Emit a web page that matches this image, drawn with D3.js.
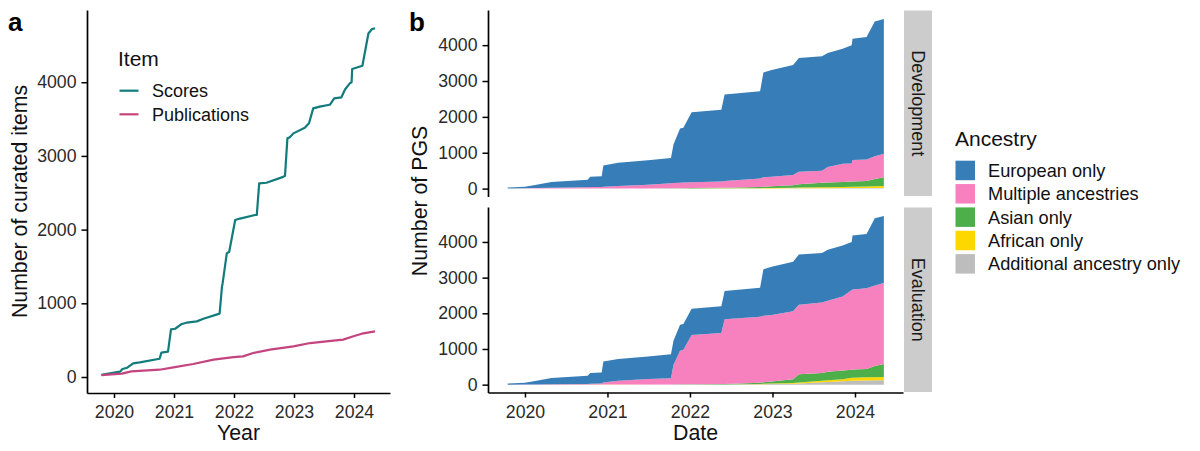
<!DOCTYPE html>
<html>
<head>
<meta charset="utf-8">
<script src="https://cdn.jsdelivr.net/npm/d3@7"></script>
<style>
  body { margin: 0; background: #fff; }
  text { font-family: "Liberation Sans", Arial, Helvetica, sans-serif; }
</style>
</head>
<body>
<svg id="chart" width="1200" height="451"></svg>
<script>
/* panel a: cumulative curated items, x in decimal years */
var scoreYears = [2019.79, 2020.1, 2020.14, 2020.22, 2020.32, 2020.43, 2020.76, 2020.79, 2020.9, 2020.95,
  2021.02, 2021.13, 2021.21, 2021.38, 2021.49, 2021.76, 2021.8, 2021.81, 2021.88, 2021.92,
  2022.02, 2022.1, 2022.35, 2022.38, 2022.42, 2022.54, 2022.82, 2022.85, 2022.89, 2022.93,
  2022.99, 2023.18, 2023.25, 2023.32, 2023.43, 2023.57, 2023.6, 2023.67, 2023.79, 2023.85,
  2023.93, 2023.96, 2023.97, 2024.05, 2024.14, 2024.24, 2024.3, 2024.35];
var scores = [31, 72, 108, 126, 185, 199, 248, 330, 344, 647,
  655, 720, 737, 755, 791, 860, 1230, 1270, 1678, 1700,
  2130, 2150, 2198, 2200, 2627, 2636, 2716, 2730, 3238, 3252,
  3306, 3383, 3444, 3645, 3668, 3691, 3695, 3780, 3795, 3902,
  3984, 4000, 4179, 4200, 4224, 4662, 4722, 4730];

var pubYears = [2019.79, 2020.13, 2020.29, 2020.76, 2020.99, 2021.32, 2021.66, 2021.99, 2022.15,
  2022.32, 2022.6, 2022.99, 2023.27, 2023.54, 2023.82, 2023.99, 2024.13, 2024.35];
var publications = [25, 45, 76, 99, 130, 176, 235, 271, 280,
  326, 371, 416, 461, 484, 507, 552, 588, 619];

/* panel b: PGS by ancestry, shared dates */
var pgsYears = [2019.79, 2020.0, 2020.14, 2020.32, 2020.76, 2020.79, 2020.93, 2020.95, 2021.13, 2021.49,
  2021.77, 2021.8, 2021.88, 2021.92, 2022.02, 2022.38, 2022.42, 2022.85, 2022.89, 2022.99,
  2023.25, 2023.32, 2023.6, 2023.67, 2023.85, 2023.96, 2023.97, 2024.14, 2024.24, 2024.35];

var devEuropean = [26, 40, 93, 160, 208, 288, 296, 592, 650, 681,
  705, 1075, 1513, 1530, 1950, 2000, 2412, 2436, 2918, 2976,
  3064, 3175, 3191, 3180, 3212, 3300, 3379, 3414, 3762, 3755];
var devMultiple = [5, 10, 15, 24, 38, 40, 46, 52, 66, 104,
  142, 146, 155, 158, 165, 178, 190, 235, 265, 265,
  285, 350, 340, 430, 505, 505, 600, 595, 630, 655];
var devAsian = [0, 0, 0, 1, 2, 2, 1, 2, 3, 4,
  5, 6, 6, 8, 10, 15, 17, 33, 40, 47,
  70, 90, 122, 130, 140, 145, 148, 157, 205, 250];
var devAfrican = [0, 0, 0, 0, 0, 0, 1, 1, 1, 1,
  2, 2, 2, 2, 3, 4, 5, 8, 10, 12,
  17, 20, 26, 28, 31, 35, 37, 42, 47, 50];
var devAdditional = [0, 0, 0, 0, 0, 0, 0, 0, 0, 1,
  1, 1, 2, 2, 2, 3, 3, 4, 5, 6,
  8, 10, 12, 12, 14, 15, 15, 16, 18, 20];

var evalEuropean = [31, 48, 103, 175, 228, 308, 314, 587, 610, 631,
  675, 680, 728, 720, 740, 750, 797, 816, 1308, 1356,
  1384, 1405, 1391, 1430, 1432, 1350, 1509, 1524, 1882, 1880];
var evalMultiple = [0, 2, 5, 10, 19, 21, 28, 58, 107, 156,
  175, 544, 942, 970, 1378, 1435, 1812, 1850, 1865, 1860,
  1910, 1950, 1970, 1990, 2070, 2230, 2245, 2260, 2260, 2270];
var evalAsian = [0, 0, 0, 0, 1, 1, 1, 1, 2, 2,
  3, 3, 5, 6, 7, 9, 11, 30, 40, 60,
  105, 230, 220, 240, 250, 230, 230, 235, 310, 365];
var evalAfrican = [0, 0, 0, 0, 0, 0, 1, 1, 1, 1,
  1, 2, 2, 2, 3, 3, 4, 10, 13, 15,
  20, 25, 40, 45, 57, 80, 83, 87, 90, 93];
var evalAdditional = [0, 0, 0, 0, 0, 0, 0, 0, 0, 1,
  1, 1, 1, 2, 2, 3, 3, 10, 12, 15,
  25, 35, 70, 75, 93, 110, 112, 118, 120, 122];

var ancestries = ["European only", "Multiple ancestries", "Asian only", "African only", "Additional ancestry only"];
var ancestryColors = ["#377eb8", "#f781bf", "#4daf4a", "#ffd700", "#bdbdbd"];
var facets = ["Development", "Evaluation"];
var items = ["Scores", "Publications"];
var itemColors = ["#137b7b", "#c4447f"];
var yearTicks = [2020, 2021, 2022, 2023, 2024];
var countTicks = [0, 1000, 2000, 3000, 4000];

var svg = d3.select("#chart");
var FONT = '"Liberation Sans", Arial, Helvetica, sans-serif';

function styleAxis(g) {
  g.attr("font-family", FONT).attr("font-size", 17.7);
  g.select(".domain").attr("stroke", "#000").attr("stroke-width", 1.7);
  g.selectAll(".tick line").attr("stroke", "#000").attr("stroke-width", 1.5);
  g.selectAll(".tick text").attr("fill", "#2a2a2a");
}

/* ---------- panel a ---------- */
var xa = d3.scaleLinear().domain([2019.55, 2024.6]).range([87, 390]);
var ya = d3.scaleLinear().domain([-217, 4980]).range([393, 10]);

svg.append("g")
    .attr("transform", "translate(87,0)")
    .call(d3.axisLeft(ya).tickValues(countTicks).tickFormat(d3.format("d"))
      .tickSize(5.5).tickSizeOuter(0).tickPadding(5))
    .call(styleAxis);
svg.append("g")
    .attr("transform", "translate(0,393)")
    .call(d3.axisBottom(xa).tickValues(yearTicks).tickFormat(d3.format("d"))
      .tickSize(5).tickSizeOuter(0).tickPadding(7.5))
    .call(styleAxis);

var lineA = d3.line()
    .x(function(d) { return xa(d[0]); })
    .y(function(d) { return ya(d[1]); });

var itemSeries = [d3.zip(scoreYears, scores), d3.zip(pubYears, publications)];
svg.selectAll(".item-line")
    .data(itemSeries)
    .enter()
    .append("path")
    .attr("class", "item-line")
    .attr("fill", "none")
    .attr("stroke", function(d, i) { return itemColors[i]; })
    .attr("stroke-width", 2.2)
    .attr("stroke-linejoin", "round")
    .attr("d", lineA);

// item legend
svg.append("text").attr("x", 118).attr("y", 66).attr("font-size", 21).attr("fill", "#111").text("Item");
items.forEach(function(name, i) {
  var cy = 90.7 + i * 23.6;
  svg.append("line").attr("x1", 119.5).attr("x2", 138.5).attr("y1", cy).attr("y2", cy)
     .attr("stroke", itemColors[i]).attr("stroke-width", 2.2);
  svg.append("text").attr("x", 152).attr("y", cy + 6.3).attr("font-size", 18).attr("fill", "#111").text(name);
});

svg.append("text").attr("transform", "translate(27,201.5) rotate(-90)")
   .attr("text-anchor", "middle").attr("font-size", 21.3).attr("fill", "#111")
   .text("Number of curated items");
svg.append("text").attr("x", 238.5).attr("y", 440).attr("text-anchor", "middle")
   .attr("font-size", 21.3).attr("fill", "#111").text("Year");
svg.append("text").attr("x", 8).attr("y", 31).attr("font-size", 26).attr("font-weight", "bold").text("a");

/* ---------- panel b ---------- */
var xb = d3.scaleLinear().domain([2019.552, 2024.582]).range([488, 903]);
var panelRanges = [[196.5, 10], [392.5, 207]];

var facetData = [
  [devEuropean, devMultiple, devAsian, devAfrican, devAdditional],
  [evalEuropean, evalMultiple, evalAsian, evalAfrican, evalAdditional]
];

facets.forEach(function(facet, f) {
  var yb = d3.scaleLinear().domain([-220, 4980]).range(panelRanges[f]);
  var rows = pgsYears.map(function(t, i) {
    var row = { year: t };
    ancestries.forEach(function(a, k) { row[a] = facetData[f][k][i]; });
    return row;
  });
  // bottom of the stack is the last ancestry
  var stack = d3.stack().keys(ancestries.slice().reverse());
  var layers = stack(rows);

  var area = d3.area()
      .x(function(d) { return xb(d.data.year); })
      .y0(function(d) { return yb(d[0]); })
      .y1(function(d) { return yb(d[1]); });

  svg.append("g").selectAll("path")
      .data(layers)
      .enter()
      .append("path")
      .attr("fill", function(d) { return ancestryColors[ancestries.indexOf(d.key)]; })
      .attr("d", area);

  svg.append("g")
      .attr("transform", "translate(488,0)")
      .call(d3.axisLeft(yb).tickValues(countTicks).tickFormat(d3.format("d"))
        .tickSize(5.5).tickSizeOuter(0).tickPadding(5))
      .call(styleAxis);

  // facet strip
  var top = panelRanges[f][1], bottom = panelRanges[f][0];
  svg.append("rect").attr("x", 904).attr("y", top + 0.5).attr("width", 28).attr("height", bottom - top - 1)
     .attr("fill", "#cccccc");
  svg.append("text")
     .attr("transform", "translate(918," + ((top + bottom) / 2) + ") rotate(90)")
     .attr("text-anchor", "middle").attr("dominant-baseline", "central")
     .attr("font-size", 18).attr("fill", "#1a1a1a").text(facet);
});

svg.append("g")
    .attr("transform", "translate(0,392.5)")
    .call(d3.axisBottom(xb).tickValues(yearTicks).tickFormat(d3.format("d"))
      .tickSize(5).tickSizeOuter(0).tickPadding(7.5))
    .call(styleAxis);

svg.append("text").attr("transform", "translate(427,201) rotate(-90)")
   .attr("text-anchor", "middle").attr("font-size", 21.3).attr("fill", "#111")
   .text("Number of PGS");
svg.append("text").attr("x", 695.5).attr("y", 440).attr("text-anchor", "middle")
   .attr("font-size", 21.3).attr("fill", "#111").text("Date");
svg.append("text").attr("x", 409).attr("y", 31).attr("font-size", 26).attr("font-weight", "bold").text("b");

// ancestry legend
svg.append("text").attr("x", 955).attr("y", 145.5).attr("font-size", 21).attr("fill", "#111").text("Ancestry");
ancestries.forEach(function(name, i) {
  var y0 = 160.7 + i * 23.35;
  svg.append("rect").attr("x", 955.5).attr("y", y0).attr("width", 19.5).attr("height", 19.5)
     .attr("fill", ancestryColors[i]);
  svg.append("text").attr("x", 988).attr("y", y0 + 16.3).attr("font-size", 18.2).attr("fill", "#111").text(name);
});
</script>
</body>
</html>
